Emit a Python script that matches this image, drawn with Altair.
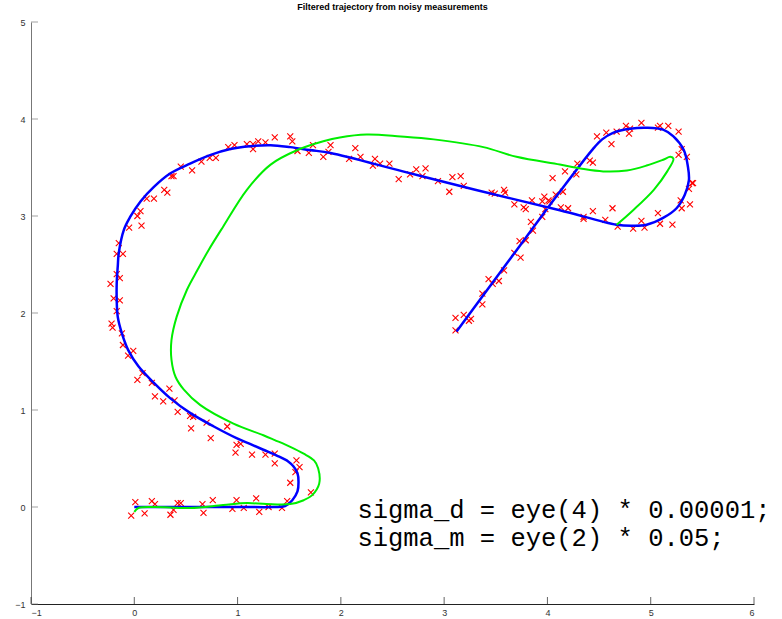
import altair as alt
import pandas as pd

# Noisy position measurements (x, y)
meas_x = [
    0.01, -0.03, 0.10, 0.17, 0.20, 0.35, 0.38, 0.42, 0.45, 0.66, 0.67, 0.76, 0.95, 0.99,
    1.06, 1.18, 1.21, 1.30, 1.43, 1.48, 1.51, 1.56, 1.60, 1.57, 1.71,
    0.98, 0.99, 1.03, 1.14, 1.27, 1.36, 1.36,
    -0.17, -0.11, -0.17, -0.14, -0.23, -0.20, -0.14, -0.17, -0.22, -0.21, -0.12, -0.11,
    -0.06, -0.01, 0.08, 0.03, 0.17, 0.20, 0.28, 0.34, 0.39, 0.42, 0.54, 0.57, 0.55, 0.70,
    0.74, 0.90,
    1.36, 1.51, 1.53, 1.58, 1.69, 1.73, 1.83, 1.88, 1.90, 1.27, 1.20, 1.15, 1.15, 1.09,
    0.97, 0.91, 0.79, 0.73, 0.65, 0.56, 0.45, 0.36, 0.38, 0.29, 0.32, 0.19, 0.12, 0.06,
    0.03, -0.05, 0.07, -0.15,
    2.14, 2.19, 2.08, 2.33, 2.31, 2.38, 2.47, 2.56, 2.67, 2.73, 2.82, 2.79,
    2.94, 3.05, 3.08, 3.16, 3.19, 3.46, 3.49, 3.58, 3.59, 3.68, 3.77, 3.79, 3.85, 3.95,
    3.97, 3.98, 4.01, 4.02, 4.05, 4.08, 4.13, 4.15, 4.20,
    3.11, 3.19, 3.11, 3.24, 3.26, 3.37, 3.37, 3.43, 3.47, 3.53, 3.58, 3.68, 3.74, 3.73,
    3.79, 3.86, 3.84, 3.95,
    4.17, 4.29, 4.28, 4.41, 4.44, 4.48, 4.57, 4.62, 4.67, 4.76, 4.79, 4.80, 4.91, 5.07,
    5.09, 5.17, 5.27, 5.30, 5.27, 5.35, 5.40, 5.41, 5.37, 5.29, 5.30, 5.38, 5.21, 5.09,
    5.07, 4.91, 4.94, 4.83, 4.68, 4.63, 4.56, 4.44, 4.35, 4.35,
]
meas_y = [
    0.05, -0.09, -0.065, 0.06, 0.03, -0.08, -0.03, 0.04, 0.04, 0.03, -0.06, 0.07, -0.02, 0.07,
    -0.01, 0.09, -0.05, 0.00, -0.01, 0.06, 0.25, 0.36, 0.41, 0.48, 0.15,
    0.56, 0.64, 0.65, 0.54, 0.54, 0.55, 0.45,
    2.61, 2.61, 2.40, 2.36, 2.30, 2.15, 2.13, 2.02, 1.89, 1.85, 1.79, 1.67,
    1.56, 1.61, 1.38, 1.31, 1.28, 1.14, 1.09, 1.22, 1.10, 0.98, 0.94, 0.93, 0.81, 0.87,
    0.71, 0.83,
    3.81, 3.82, 3.77, 3.67, 3.65, 3.73, 3.61, 3.66, 3.73, 3.76, 3.77, 3.74, 3.69, 3.74,
    3.73, 3.71, 3.60, 3.60, 3.56, 3.47, 3.51, 3.41, 3.41, 3.27, 3.24, 3.18, 3.18, 3.05,
    3.00, 2.88, 2.90, 2.72,
    3.70, 3.61, 3.59, 3.59, 3.52, 3.54, 3.54, 3.38, 3.43, 3.48, 3.49, 3.41,
    3.36, 3.25, 3.40, 3.41, 3.31, 3.24, 3.23, 3.27, 3.24, 3.12, 3.09, 3.07, 3.16, 3.15,
    3.20, 3.07, 3.16, 3.15, 3.39, 3.22, 3.09, 3.25, 3.08,
    1.95, 1.98, 1.82, 1.92, 1.94, 2.20, 2.09, 2.35, 2.30, 2.33, 2.44, 2.62, 2.57, 2.74,
    2.75, 2.85, 2.94, 2.99,
    3.46, 3.54, 3.43, 3.57, 3.55, 3.82, 3.86, 3.74, 3.87, 3.93, 3.85, 3.90, 3.96, 3.91,
    3.93, 3.93, 3.87, 3.69, 3.63, 3.61, 3.34, 3.34, 3.28, 3.16, 3.08, 3.12, 2.91, 2.92,
    3.03, 2.95, 2.88, 2.87, 2.89, 3.08, 2.96, 3.05, 2.99, 2.97,
]

# Kalman-filtered trajectory
filt_x = [
    0.00, 0.35, 0.70, 1.05, 1.35, 1.46, 1.53, 1.58, 1.59, 1.58, 1.54, 1.49, 1.38, 1.25,
    1.12, 0.99, 0.77, 0.54, 0.35, 0.19, 0.04, -0.06, -0.12, -0.16, -0.17, -0.17, -0.16,
    -0.15, -0.10, -0.04, 0.06, 0.19, 0.35, 0.54, 0.74, 0.93, 1.12, 1.32, 1.51, 1.70,
    1.90, 2.60, 3.30, 4.12, 4.67, 4.83, 4.96, 5.12, 5.25, 5.33, 5.37, 5.36, 5.32, 5.22,
    5.12, 4.96, 4.80, 4.64, 4.53, 4.44, 4.12, 3.62, 3.12,
]
filt_y = [
    0.00, 0.00, 0.00, 0.00, 0.00, 0.01, 0.07, 0.16, 0.26, 0.35, 0.42, 0.47, 0.53, 0.59,
    0.65, 0.71, 0.83, 0.97, 1.12, 1.28, 1.45, 1.62, 1.79, 1.96, 2.13, 2.31, 2.48,
    2.62, 2.86, 2.99, 3.15, 3.30, 3.44, 3.54, 3.63, 3.69, 3.72, 3.73, 3.71, 3.68,
    3.65, 3.46, 3.27, 3.06, 2.91, 2.90, 2.91, 2.98, 3.08, 3.22, 3.37, 3.51, 3.68, 3.82,
    3.89, 3.91, 3.90, 3.86, 3.79, 3.69, 3.25, 2.53, 1.81,
]

# Reference (true) trajectory
true_x = [
    0.00, 0.04, 0.19, 0.54, 0.86, 1.09, 1.28, 1.51, 1.64, 1.72, 1.79, 1.78, 1.74, 1.64,
    1.51, 1.36, 1.25, 0.96, 0.64, 0.48, 0.40, 0.36, 0.36, 0.41, 0.51, 0.61, 0.72, 0.86,
    1.09, 1.32, 1.58, 1.83, 1.99, 2.25, 2.58, 2.90, 3.38, 3.70, 4.12, 4.32, 4.54, 4.77,
    4.96, 5.12, 5.19, 5.22, 5.16, 5.03, 4.83, 4.67,
]
true_y = [
    -0.05, -0.01, 0.00, -0.01, 0.02, 0.04, 0.03, 0.03, 0.07, 0.12, 0.24, 0.40, 0.48, 0.55,
    0.62, 0.69, 0.74, 0.86, 1.05, 1.21, 1.34, 1.52, 1.72, 1.96, 2.24, 2.44, 2.65, 2.89,
    3.27, 3.53, 3.68, 3.77, 3.81, 3.84, 3.82, 3.79, 3.71, 3.61, 3.53, 3.49, 3.46, 3.47,
    3.52, 3.58, 3.61, 3.59, 3.46, 3.27, 3.06, 2.91,
]

x_ticks = [-1, 0, 1, 2, 3, 4, 5, 6]
y_ticks = [-1, 0, 1, 2, 3, 4, 5]

note_lines = ["sigma_d = eye(4) * 0.00001;", "sigma_m = eye(2) * 0.05;"]
note_y = [-0.03, -0.32]

meas = pd.DataFrame({"x": meas_x, "y": meas_y})
filt = pd.DataFrame({"x": filt_x, "y": filt_y, "i": range(len(filt_x))})
true = pd.DataFrame({"x": true_x, "y": true_y, "i": range(len(true_x))})
xt = pd.DataFrame({"v": x_ticks})
yt = pd.DataFrame({"v": y_ticks})
notes = pd.DataFrame({"t": note_lines, "y": note_y})

xs = alt.Scale(domain=[-1, 6], nice=False, zero=False)
ys = alt.Scale(domain=[-1, 5], nice=False, zero=False)

label_font = "Liberation Sans"
x_axis = alt.Axis(values=x_ticks, ticks=False, grid=False, title=None, labelFont=label_font,
                  labelFontSize=9, labelColor="#333333", domainColor="#222222",
                  labelPadding=4, format="d")
y_axis = alt.Axis(values=y_ticks, ticks=False, grid=False, title=None, labelFont=label_font,
                  labelFontSize=9, labelColor="#333333", domainColor="#777777",
                  labelPadding=6, format="d")

X_SHAPE = "M -1 -1 L 1 1 M -1 1 L 1 -1"

points = alt.Chart(meas).mark_point(
    shape=X_SHAPE, filled=False, color="#ff0000", size=36, strokeWidth=1.1, opacity=1
).encode(x=alt.X("x:Q", scale=xs, axis=x_axis), y=alt.Y("y:Q", scale=ys, axis=y_axis))

filtered = alt.Chart(filt).mark_line(
    color="#0000ff", strokeWidth=2.5, interpolate="catmull-rom"
).encode(x=alt.X("x:Q", scale=xs), y=alt.Y("y:Q", scale=ys), order="i:Q")

truth = alt.Chart(true).mark_line(
    color="#00ee00", strokeWidth=2, interpolate="catmull-rom"
).encode(x=alt.X("x:Q", scale=xs), y=alt.Y("y:Q", scale=ys), order="i:Q")

x_tick_marks = alt.Chart(xt).mark_tick(
    orient="vertical", color="#222222", size=7, thickness=1, yOffset=-3.5
).encode(x=alt.X("v:Q", scale=xs), y=alt.datum(-1, scale=ys))

y_tick_marks = alt.Chart(yt).mark_tick(
    orient="horizontal", color="#777777", size=7, thickness=1, xOffset=3.5
).encode(y=alt.Y("v:Q", scale=ys), x=alt.datum(-1, scale=xs))

note_text = alt.Chart(notes).mark_text(
    align="left", baseline="middle", font="Liberation Mono", fontSize=25.5, color="#000000"
).encode(x=alt.datum(2.16, scale=xs), y=alt.Y("y:Q", scale=ys), text="t:N")

chart = alt.layer(
    points, filtered, truth, x_tick_marks, y_tick_marks, note_text
).properties(
    width=723,
    height=582,
    background="#ffffff",
    title=alt.TitleParams(
        "Filtered trajectory from noisy measurements",
        font=label_font, fontSize=9, fontWeight="bold", color="#000000",
        anchor="middle", offset=6,
    ),
    autosize=alt.AutoSizeParams(type="none"),
    padding={"left": 31, "top": 22, "right": 28, "bottom": 15},
).configure_view(stroke=None, strokeWidth=0)

chart.save("out.html", embed_options={"renderer": "svg", "actions": False})
